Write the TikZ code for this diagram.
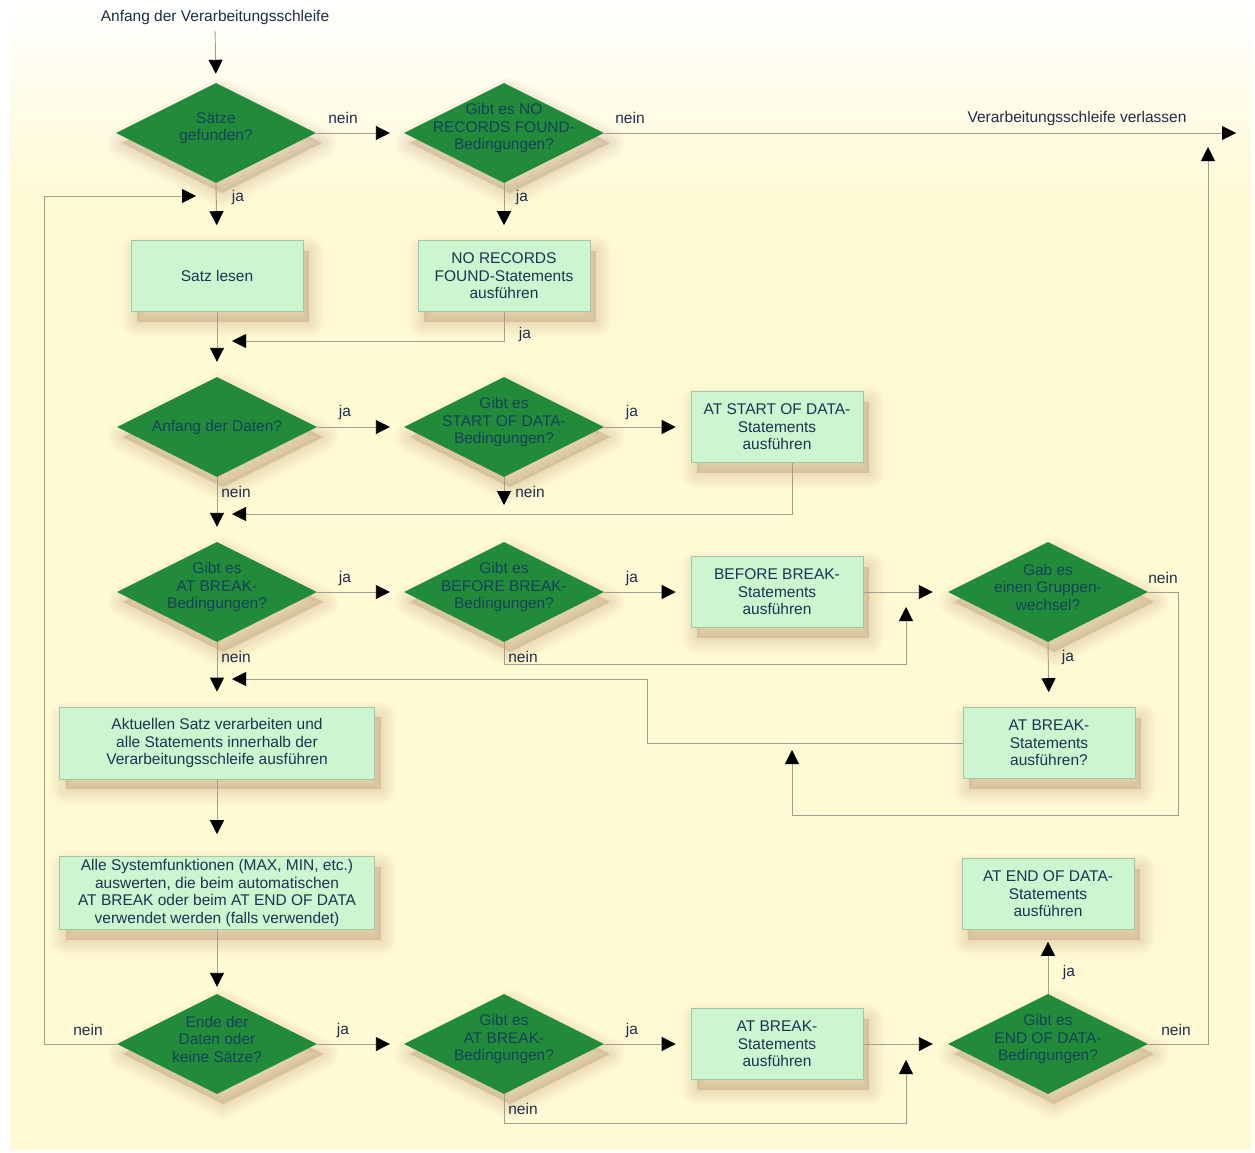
\documentclass[tikz,border=0pt]{standalone}
\usepackage{fontspec}
\setmainfont{Liberation Sans}
\usetikzlibrary{shapes.geometric,arrows.meta}

\definecolor{bgY}{RGB}{255,249,212}
\definecolor{diaG}{RGB}{33,139,58}
\definecolor{diaT}{RGB}{20,66,92}
\definecolor{boxG}{RGB}{204,245,208}
\definecolor{boxB}{RGB}{160,200,165}
\definecolor{boxT}{RGB}{28,52,82}
\definecolor{labT}{RGB}{30,45,75}
\definecolor{lineC}{RGB}{160,160,145}
\definecolor{shC}{RGB}{140,85,45}

\begin{document}
\begin{tikzpicture}[x=1pt,y=-1pt,
  every node/.style={font=\fontsize{15.5}{17.5}\selectfont},
  shlayer/.style={preaction={draw=shC, fill=shC, opacity=0.028, line width=#1, line join=round, transform canvas={xshift=6pt,yshift=-10pt}}},
  shad/.style={shlayer=30pt, shlayer=24pt, shlayer=18pt, shlayer=13pt, shlayer=8pt, shlayer=4pt,
     preaction={fill=shC, opacity=0.03, transform canvas={xshift=6pt,yshift=-10pt}}},
  dia/.style={diamond, fill=diaG, minimum width=200pt, minimum height=100pt, inner sep=0pt, shad},
  dtext/.style={text=diaT, align=center, inner sep=0pt, yshift=5pt},
  dtext1/.style={text=diaT, align=center, inner sep=0pt},
  box/.style={rectangle, fill=boxG, draw=boxB, line width=0.6pt, minimum width=172pt, minimum height=71pt, text=boxT, align=center, inner sep=2pt, shad},
  wbox/.style={box, minimum width=315pt, minimum height=72pt},
  lbl/.style={text=labT, inner sep=1pt},
  ln/.style={draw=lineC, line width=0.9pt},
  ar/.style={ln, -{Triangle[length=14pt,width=14pt,color=black]}}
]
\useasboundingbox (0,0) rectangle (1255,1152);
% background
\fill[bgY] (10,0) rectangle (1251,1150);
\shade[top color=white, bottom color=bgY] (10,0) rectangle (1251,200);

% title
\node[lbl] (title) at (215,17) {Anfang der Verarbeitungsschleife};

% diamonds
\node[dia, label={[dtext]center:Sätze\\gefunden?}] (d1) at (216,133) {};
\node[dia, label={[dtext]center:Gibt es NO\\RECORDS FOUND-\\Bedingungen?}] (d2) at (504,133) {};
\node[dia, label={[dtext1]center:Anfang der Daten?}] (d3) at (217,427) {};
\node[dia, label={[dtext]center:Gibt es\\START OF DATA-\\Bedingungen?}] (d4) at (504,427) {};
\node[dia, label={[dtext]center:Gibt es\\AT BREAK-\\Bedingungen?}] (d5) at (217,592) {};
\node[dia, label={[dtext]center:Gibt es\\BEFORE BREAK-\\Bedingungen?}] (d6) at (504,592) {};
\node[dia, label={[dtext]center:Gab es\\einen Gruppen-\\wechsel?}] (d7) at (1048,592) {};
\node[dia, label={[dtext]center:Ende der\\Daten oder\\keine Sätze?}] (d8) at (217,1044) {};
\node[dia, label={[dtext]center:Gibt es\\AT BREAK-\\Bedingungen?}] (d9) at (504,1044) {};
\node[dia, label={[dtext]center:Gibt es\\END OF DATA-\\Bedingungen?}] (d10) at (1048,1044) {};

% boxes
\node[box] (b1) at (217,276) {Satz lesen};
\node[box] (b2) at (504,276) {NO RECORDS\\FOUND-Statements\\ausführen};
\node[box] (b3) at (777,427) {AT START OF DATA-\\Statements\\ausführen};
\node[box] (b4) at (777,592) {BEFORE BREAK-\\Statements\\ausführen};
\node[box] (b5) at (1049,743) {AT BREAK-\\Statements\\ausführen?};
\node[wbox] (b6) at (217,743) {Aktuellen Satz verarbeiten und\\alle Statements innerhalb der\\Verarbeitungsschleife ausführen};
\node[wbox, minimum height=73pt] (b7) at (217,893) {Alle Systemfunktionen (MAX, MIN, etc.)\\auswerten, die beim automatischen\\AT BREAK oder beim AT END OF DATA\\verwendet werden (falls verwendet)};
\node[box] (b8) at (777,1044) {AT BREAK-\\Statements\\ausführen};
\node[box] (b9) at (1048,894) {AT END OF DATA-\\Statements\\ausführen};

% free ends
\coordinate (exit) at (1236,133);
\coordinate (in1) at (196,196);
\coordinate (in2) at (232,341);
\coordinate (in3) at (232,514);
\coordinate (in4) at (504,505);
\coordinate (in5) at (906,607);
\coordinate (in6) at (792,750);
\coordinate (in7) at (232,679);
\coordinate (in8) at (906,1060);
\coordinate (in9) at (1208,147);

% connectors
\draw[ar, shorten <=6pt, shorten >=9pt] (title.south) -- (d1.north);
\draw[ar, shorten >=14pt] (d1.east) -- (d2.west);
\draw[ar] (d2.east) -- (exit);
\draw[ar, shorten >=15pt] (d1.south) -- (b1.north);
\draw[ar, shorten >=15pt] (d2.south) -- (b2.north);
\draw[ar] (d8.west) -- ++(-72,0) |- (in1);
\draw[ar] (b2.south) |- (in2);
\draw[ar, shorten >=15pt] (b1.south) -- (d3.north);
\draw[ar, shorten >=14pt] (d3.east) -- (d4.west);
\draw[ar, shorten >=15pt] (d4.east) -- (b3.west);
\draw[ar] ([xshift=15pt]b3.south) |- (in3);
\draw[ar] (d4.south) -- (in4);
\draw[ar, shorten >=15pt] (d3.south) -- (d5.north);
\draw[ar, shorten >=14pt] (d5.east) -- (d6.west);
\draw[ar, shorten >=15pt] (d6.east) -- (b4.west);
\draw[ar, shorten >=15pt] (b4.east) -- (d7.west);
\draw[ar] (d6.south) -- ++(0,22) -| (in5);
\draw[ar] (d7.east) -- ++(30,0) -- ++(0,223) -| (in6);
\draw[ar, shorten >=15pt] (d7.south) -- (b5.north);
\draw[ar] (b5.west) -- ++(-315,0) |- (in7);
\draw[ar, shorten >=15pt] (d5.south) -- (b6.north);
\draw[ar, shorten >=22pt] (b6.south) -- (b7.north);
\draw[ar, shorten >=7pt] (b7.south) -- (d8.north);
\draw[ar, shorten >=14pt] (d8.east) -- (d9.west);
\draw[ar, shorten >=15pt] (d9.east) -- (b8.west);
\draw[ar, shorten >=15pt] (b8.east) -- (d10.west);
\draw[ar] (d9.south) -- ++(0,29) -| (in8);
\draw[ar, shorten >=12pt] (d10.north) -- (b9.south);
\draw[ar] (d10.east) -| (in9);

% labels
\node[lbl] (l1) at (343,118) {nein};
\node[lbl] (l2) at (630,118) {nein};
\node[lbl] (l3) at (1077,118) {Verarbeitungsschleife verlassen};
\node[lbl] (l4) at (238,197) {ja};
\node[lbl] (l5) at (522,197) {ja};
\node[lbl] (l6) at (525,334) {ja};
\node[lbl] (l7) at (345,412) {ja};
\node[lbl] (l8) at (632,412) {ja};
\node[lbl] (l9) at (236,492) {nein};
\node[lbl] (l10) at (530,492) {nein};
\node[lbl] (l11) at (345,578) {ja};
\node[lbl] (l12) at (632,578) {ja};
\node[lbl] (l13) at (1163,578) {nein};
\node[lbl] (l14) at (236,657) {nein};
\node[lbl] (l15) at (523,657) {nein};
\node[lbl] (l16) at (1068,657) {ja};
\node[lbl] (l17) at (1069,972) {ja};
\node[lbl] (l18) at (88,1030) {nein};
\node[lbl] (l19) at (343,1030) {ja};
\node[lbl] (l20) at (632,1030) {ja};
\node[lbl] (l21) at (1176,1030) {nein};
\node[lbl] (l22) at (523,1109) {nein};
\end{tikzpicture}
\end{document}
